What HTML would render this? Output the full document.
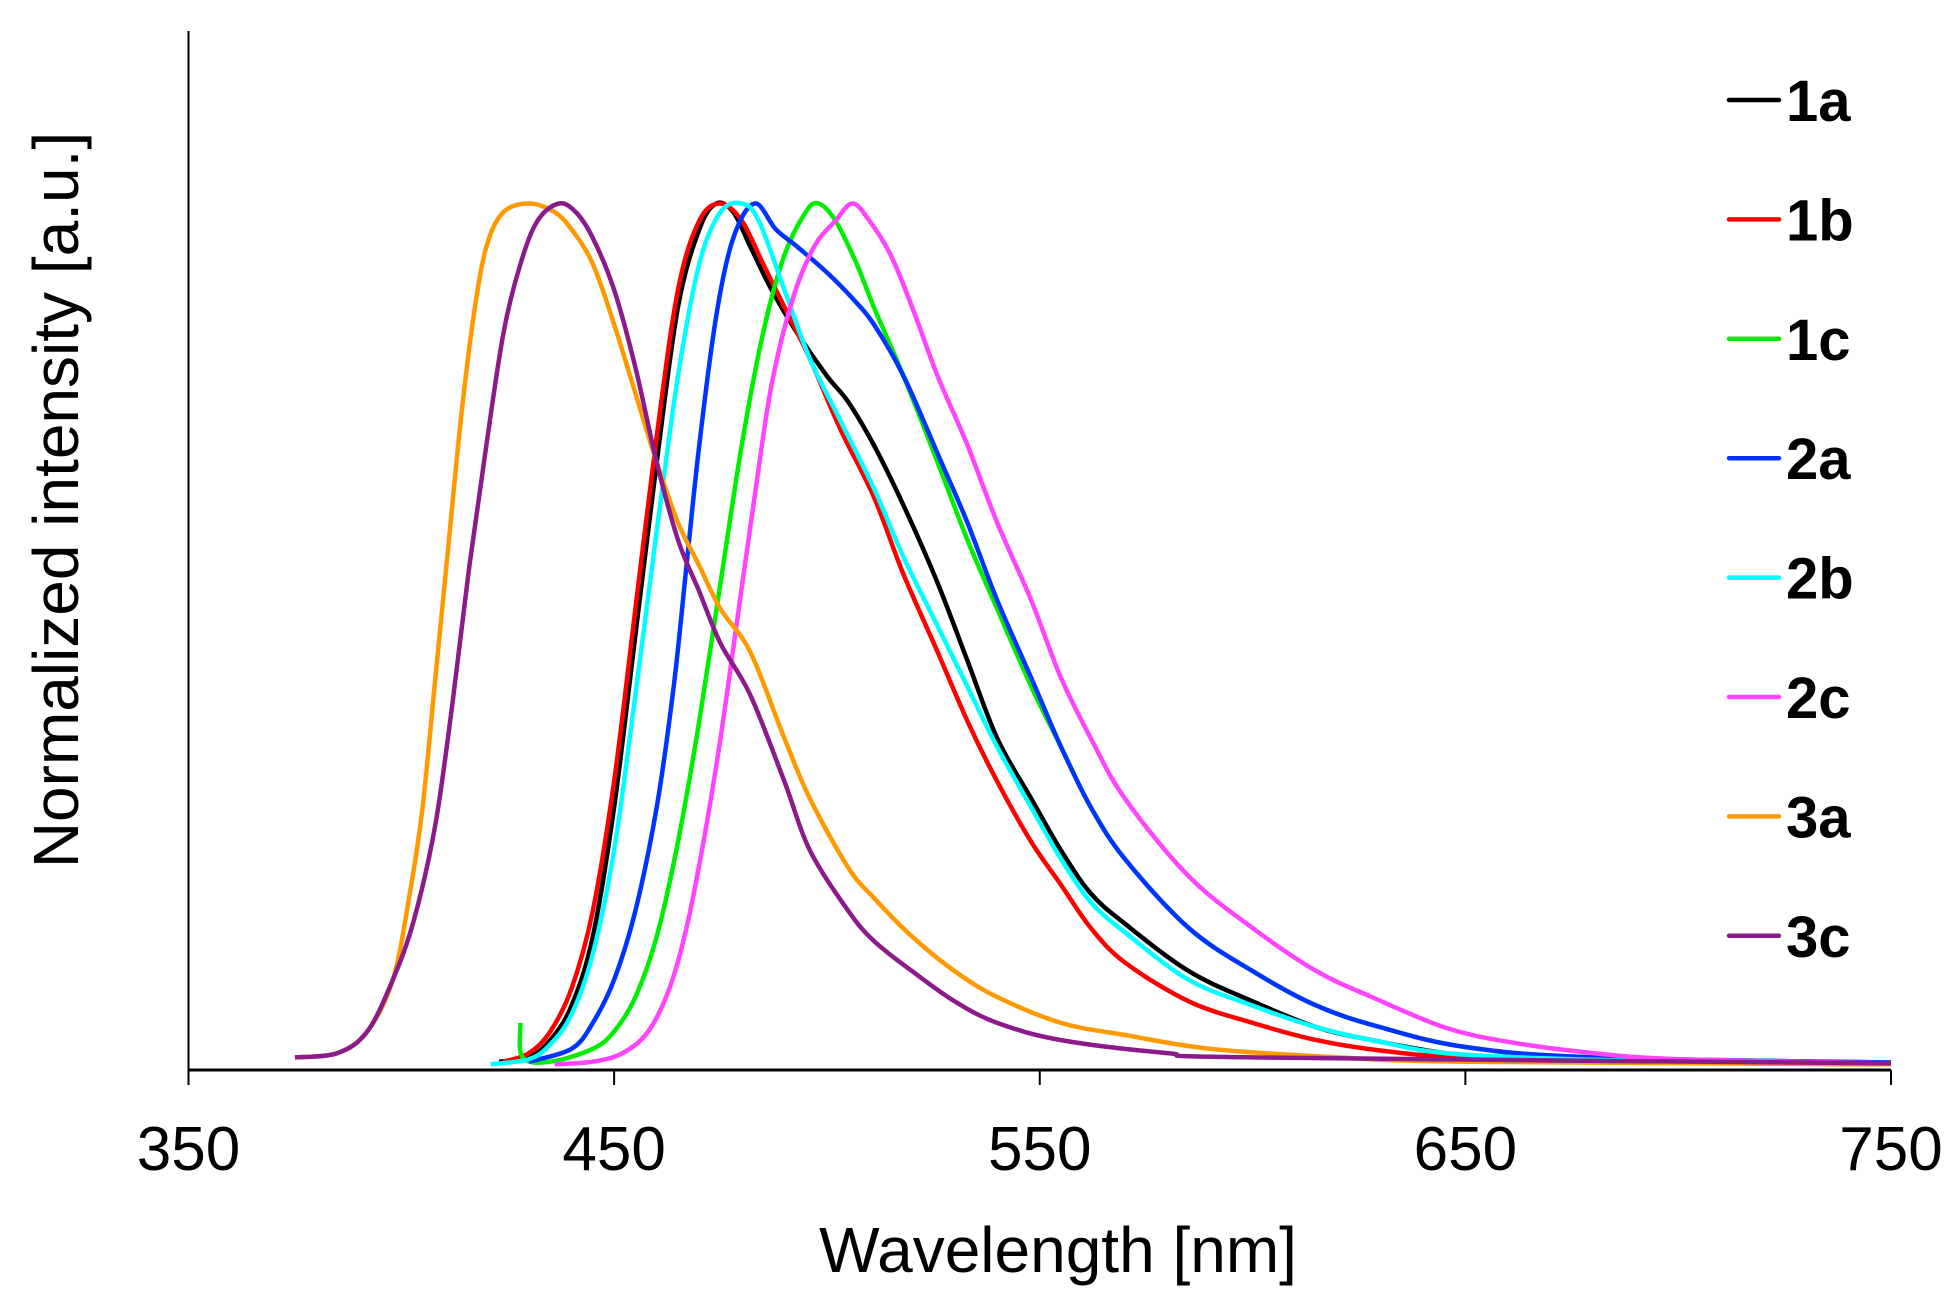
<!DOCTYPE html>
<html><head><meta charset="utf-8"><style>
html,body{margin:0;padding:0;background:#fff;}
svg{display:block;font-family:"Liberation Sans",Arial,sans-serif;}
</style></head><body>
<svg id="chart" width="1951" height="1299" viewBox="0 0 1951 1299">
<g id="plot"></g>
<line x1="188.5" y1="31" x2="188.5" y2="1070" stroke="#000" stroke-width="2"/>
<line x1="188.5" y1="1070" x2="1891" y2="1070" stroke="#000" stroke-width="3"/>
<g id="xticks"></g>
<text x="1058" y="1272" font-size="64" text-anchor="middle">Wavelength [nm]</text>
<text transform="translate(78,500) rotate(-90)" font-size="64" text-anchor="middle">Normalized intensity [a.u.]</text>
<g id="legend"></g>
</svg>
<script>
const seriesNames=["1a","1b","1c","2a","2b","2c","3a","3c"];
const seriesColors=["#000000","#ff0000","#00ee00","#0033ff","#00ffff","#ff44ff","#ff9900","#8b1a8b"];
const xTicks=[350,450,550,650,750];
const s1a=[[423,0.005],[430,0.01],[435,0.03],[440,0.07],[445,0.15],[450,0.3],[455,0.5],[460,0.7],[465,0.88],[470,0.97],[474,1.0],[478,0.99],[482,0.95],[487,0.9],[493,0.85],[500,0.8],[505,0.77],[511,0.72],[518,0.65],[526,0.56],[533,0.47],[540,0.38],[548,0.31],[555,0.25],[562,0.2],[570,0.165],[585,0.11],[600,0.075],[615,0.045],[628,0.03],[645,0.015],[660,0.008],[700,0.004],[750,0.002]];
const s1b=[[424,0.005],[430,0.015],[435,0.04],[440,0.09],[445,0.18],[450,0.33],[455,0.53],[460,0.73],[465,0.9],[470,0.98],[475,1.0],[480,0.98],[485,0.93],[490,0.88],[496,0.82],[503,0.74],[511,0.66],[518,0.57],[526,0.48],[533,0.4],[540,0.33],[548,0.26],[555,0.21],[562,0.16],[570,0.12],[585,0.075],[600,0.05],[615,0.03],[630,0.018],[650,0.01],[700,0.004],[750,0.002]];
const s1c=[[428,0.05],[428.5,0.01],[435,0.005],[445,0.02],[450,0.04],[455,0.08],[460,0.15],[465,0.26],[470,0.4],[475,0.56],[480,0.72],[485,0.85],[490,0.94],[495,0.99],[498,1.0],[502,0.98],[507,0.93],[511,0.88],[518,0.8],[526,0.7],[533,0.61],[540,0.53],[548,0.44],[555,0.37],[562,0.3],[570,0.24],[585,0.16],[600,0.11],[615,0.07],[630,0.045],[650,0.022],[680,0.01],[750,0.004]];
const s2a=[[430,0.005],[440,0.02],[445,0.05],[450,0.1],[455,0.18],[460,0.3],[464,0.44],[467,0.58],[470,0.72],[474,0.87],[478,0.96],[483,1.0],[488,0.97],[493,0.95],[500,0.92],[506,0.89],[511,0.86],[518,0.8],[526,0.71],[533,0.63],[540,0.54],[548,0.45],[555,0.37],[562,0.3],[570,0.24],[585,0.16],[600,0.11],[615,0.07],[630,0.045],[650,0.022],[680,0.01],[750,0.004]];
const s2b=[[421,0.002],[430,0.008],[435,0.025],[440,0.06],[445,0.13],[450,0.25],[455,0.43],[460,0.62],[465,0.8],[470,0.93],[475,0.99],[480,1.0],[484,0.98],[490,0.9],[496,0.82],[503,0.75],[511,0.67],[518,0.59],[526,0.51],[533,0.44],[540,0.37],[548,0.3],[555,0.24],[562,0.19],[570,0.155],[585,0.1],[600,0.07],[615,0.045],[630,0.028],[650,0.013],[700,0.005],[750,0.003]];
const s2c=[[436,0.002],[445,0.005],[452,0.015],[458,0.04],[463,0.09],[467,0.16],[471,0.26],[475,0.38],[479,0.52],[483,0.66],[487,0.79],[492,0.89],[497,0.95],[502,0.98],[506,1.0],[510,0.98],[515,0.94],[520,0.88],[526,0.8],[533,0.72],[540,0.63],[548,0.54],[555,0.45],[562,0.38],[570,0.31],[585,0.22],[600,0.16],[615,0.11],[628,0.08],[645,0.045],[660,0.028],[680,0.015],[700,0.008],[750,0.003]];
const s3a=[[375,0.01],[385,0.015],[392,0.04],[398,0.1],[402,0.2],[405,0.3],[408,0.45],[411,0.6],[414,0.75],[417,0.87],[420,0.95],[424,0.99],[430,1.0],[436,0.99],[440,0.97],[445,0.93],[450,0.86],[455,0.78],[460,0.7],[465,0.63],[470,0.58],[475,0.53],[482,0.48],[490,0.38],[496,0.31],[505,0.23],[511,0.195],[520,0.15],[530,0.11],[540,0.08],[555,0.05],[570,0.036],[590,0.02],[620,0.01],[650,0.005],[750,0.002]];
const s3c=[[375,0.01],[385,0.015],[392,0.04],[398,0.1],[403,0.17],[408,0.28],[412,0.42],[416,0.58],[420,0.72],[424,0.85],[428,0.93],[432,0.98],[437,1.0],[441,0.99],[445,0.96],[450,0.9],[455,0.81],[460,0.7],[465,0.61],[470,0.55],[475,0.49],[482,0.43],[490,0.33],[496,0.25],[505,0.18],[511,0.145],[520,0.11],[530,0.075],[540,0.05],[555,0.03],[580,0.015],[600,0.01],[750,0.003]];
const seriesData=[s1a,s1b,s1c,s2a,s2b,s2c,s3a,s3c];

const NS="http://www.w3.org/2000/svg";
function xScale(w){return 188.5+(w-350)/400*(1891-188.5);}
function yScale(v){return 1066-v*(1066-203.5);}
function smoothPath(pts){
  let d='M'+pts[0][0].toFixed(1)+','+pts[0][1].toFixed(1);
  for(let i=0;i<pts.length-1;i++){
    const p0=pts[Math.max(0,i-1)],p1=pts[i],p2=pts[i+1],p3=pts[Math.min(pts.length-1,i+2)];
    const c1x=p1[0]+(p2[0]-p0[0])/6,c1y=p1[1]+(p2[1]-p0[1])/6;
    const c2x=p2[0]-(p3[0]-p1[0])/6,c2y=p2[1]-(p3[1]-p1[1])/6;
    d+='C'+c1x.toFixed(1)+','+c1y.toFixed(1)+' '+c2x.toFixed(1)+','+c2y.toFixed(1)+' '+p2[0].toFixed(1)+','+p2[1].toFixed(1);
  }
  return d;
}
const plot=document.getElementById('plot');
seriesData.forEach((d,i)=>{
  const p=document.createElementNS(NS,'path');
  p.setAttribute('d',smoothPath(d.map(pt=>[xScale(pt[0]),yScale(pt[1])])));
  p.setAttribute('fill','none');
  p.setAttribute('stroke',seriesColors[i]);
  p.setAttribute('stroke-width','4.5');
  p.setAttribute('stroke-linejoin','round');
  
  
  plot.appendChild(p);
});
const xt=document.getElementById('xticks');
xTicks.forEach(t=>{
  const x=xScale(t);
  const l=document.createElementNS(NS,'line');
  l.setAttribute('x1',x);l.setAttribute('x2',x);l.setAttribute('y1',1070);l.setAttribute('y2',1085);
  l.setAttribute('stroke','#000');l.setAttribute('stroke-width','2');
  
  
  xt.appendChild(l);
  const tx=document.createElementNS(NS,'text');
  tx.setAttribute('x',x);tx.setAttribute('y',1170);
  tx.setAttribute('font-size','62');tx.setAttribute('text-anchor','middle');
  tx.textContent=t;
  
  
  xt.appendChild(tx);
});
const lg=document.getElementById('legend');
seriesNames.forEach((n,i)=>{
  const y=100+i*119.4;
  const l=document.createElementNS(NS,'line');
  l.setAttribute('x1',1729);l.setAttribute('x2',1779);l.setAttribute('y1',y);l.setAttribute('y2',y);
  l.setAttribute('stroke',seriesColors[i]);l.setAttribute('stroke-width','4.5');l.setAttribute('stroke-linecap','round');
  
  
  lg.appendChild(l);
  const t=document.createElementNS(NS,'text');
  t.setAttribute('x',1786);t.setAttribute('y',y+21);
  t.setAttribute('font-size','58');t.setAttribute('font-weight','bold');
  t.textContent=n;
  
  
  lg.appendChild(t);
});
</script>
</body></html>
